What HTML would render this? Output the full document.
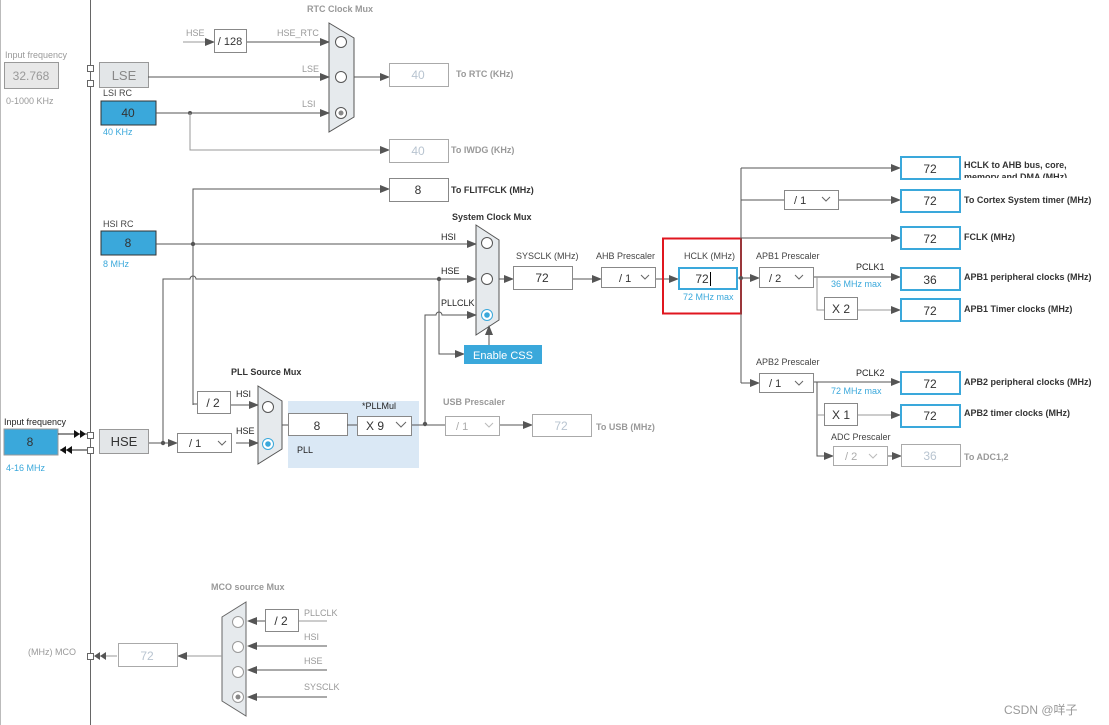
<!DOCTYPE html>
<html><head><meta charset="utf-8"><style>
html,body{margin:0;padding:0;background:#fff;}
svg{display:block;font-family:"Liberation Sans","Noto Sans CJK SC",sans-serif;}
.l{font-size:9px;fill:#444;}
.b{font-size:9px;fill:#333;font-weight:bold;}
.g{font-size:9px;fill:#999;}
.bl{font-size:9px;fill:#3aa8db;}
.v{font-size:12px;fill:#333;text-anchor:middle;}
.vg{font-size:12px;fill:#b8c4d0;text-anchor:middle;}
line,polyline,path{stroke:#555;stroke-width:1;fill:none;}
.lg{stroke:#999;}
.box{fill:#fff;stroke:#888;stroke-width:1;}
.bb{fill:#fff;stroke:#3aa8db;stroke-width:2;}
.mux{fill:#e6eaed;stroke:#555;stroke-width:1;}
.c{fill:#fff;stroke:#555;stroke-width:1;}
.cg{fill:#fff;stroke:#999;stroke-width:1;}
</style></head><body>
<svg width="1109" height="725" viewBox="0 0 1109 725" xmlns="http://www.w3.org/2000/svg">
<defs>
<marker id="a" markerWidth="10" markerHeight="8" refX="9" refY="4" orient="auto" markerUnits="userSpaceOnUse"><path d="M0,0 L10,4 L0,8 Z" style="fill:#555;stroke:none"/></marker>
<clipPath id="clp"><rect x="950" y="170" width="150" height="8"/></clipPath>
</defs>
<line x1="0.5" y1="0" x2="0.5" y2="725" style="stroke:#bbb"/>
<line x1="90.5" y1="0" x2="90.5" y2="725" style="stroke:#666"/>

<!-- LSE input -->
<text class="g" x="5" y="58">Input frequency</text>
<rect x="4.5" y="62.5" width="54" height="26" style="fill:#e8e8e8;stroke:#999"/>
<text x="31" y="80" style="font-size:12px;fill:#999;text-anchor:middle">32.768</text>
<text class="g" x="6" y="104">0-1000 KHz</text>
<rect x="87.5" y="65.5" width="6" height="6" style="fill:#fff;stroke:#666"/>
<rect x="87.5" y="80.5" width="6" height="6" style="fill:#fff;stroke:#666"/>
<rect x="99.5" y="62.5" width="49" height="25" style="fill:#e3e6e8;stroke:#999"/>
<text x="124" y="80" style="font-size:13px;fill:#888;text-anchor:middle">LSE</text>

<!-- LSI -->
<text class="l" x="103" y="96">LSI RC</text>
<rect x="101" y="101" width="55" height="24" style="fill:#3aa8db;stroke:#333"/>
<text class="v" x="128" y="117">40</text>
<text class="bl" x="103" y="135">40 KHz</text>

<!-- RTC mux -->
<text class="g" x="307" y="12" style="font-weight:bold">RTC Clock Mux</text>
<text class="g" x="186" y="36">HSE</text>
<line x1="183" y1="42" x2="214" y2="42" marker-end="url(#a)" class="lg"/>
<rect class="box" x="214.5" y="29.5" width="32" height="23"/>
<text x="230" y="45" style="font-size:11px;fill:#333;text-anchor:middle">/ 128</text>
<text class="g" x="277" y="36">HSE_RTC</text>
<line x1="247" y1="42" x2="329" y2="42" marker-end="url(#a)"/>
<polygon class="mux" points="329,23 354,38 354,117 329,132"/>
<circle class="c" cx="341" cy="42" r="5.5"/>
<circle class="c" cx="341" cy="77" r="5.5"/>
<circle class="c" cx="341" cy="113" r="5.5"/>
<circle cx="341" cy="113" r="2.5" style="fill:#888"/>
<text class="g" x="302" y="72">LSE</text>
<line x1="148" y1="77" x2="329" y2="77" marker-end="url(#a)"/>
<text class="g" x="302" y="107">LSI</text>
<line x1="156" y1="113" x2="329" y2="113" marker-end="url(#a)"/>
<circle cx="190" cy="113" r="2" style="fill:#555"/>
<line x1="354" y1="77" x2="389" y2="77" marker-end="url(#a)"/>
<rect class="box" x="389.5" y="63.5" width="59" height="23" style="stroke:#aaa"/>
<text class="vg" x="418" y="79">40</text>
<text class="g" x="456" y="77" style="font-weight:bold">To RTC (KHz)</text>
<polyline points="190,113 190,150 389,150" class="lg" marker-end="url(#a)"/>
<rect class="box" x="389.5" y="139.5" width="59" height="23" style="stroke:#aaa"/>
<text class="vg" x="418" y="155">40</text>
<text class="g" x="451" y="153" style="font-weight:bold">To IWDG (KHz)</text>

<!-- FLITF -->
<polyline points="193,405 193,189 389,189" marker-end="url(#a)"/>
<rect class="box" x="389.5" y="178.5" width="59" height="23"/>
<text class="v" x="418" y="194">8</text>
<text class="b" x="451" y="193">To FLITFCLK (MHz)</text>

<!-- HSI -->
<text class="l" x="103" y="227">HSI RC</text>
<rect x="101" y="231" width="55" height="24" style="fill:#3aa8db;stroke:#333"/>
<text class="v" x="128" y="247">8</text>
<text class="bl" x="103" y="267">8 MHz</text>
<line x1="156" y1="244" x2="476" y2="244" marker-end="url(#a)"/>
<circle cx="193" cy="244" r="2.2" style="fill:#555"/>

<!-- Sys mux -->
<text class="b" x="452" y="220">System Clock Mux</text>
<polygon class="mux" points="476,225 499,240 499,320 476,335"/>
<circle class="c" cx="487" cy="243" r="5.5"/>
<circle class="c" cx="487" cy="279" r="5.5"/>
<circle cx="487" cy="315" r="5.5" style="fill:#fff;stroke:#3aa8db"/>
<circle cx="487" cy="315" r="2.8" style="fill:#3aa8db"/>
<text class="l" x="441" y="240" style="fill:#222">HSI</text>
<text class="l" x="441" y="274" style="fill:#222">HSE</text>
<text class="l" x="441" y="306" style="fill:#222">PLLCLK</text>
<path d="M163,443 L163,279 L190,279 A3,3 0 0 1 196,279 L476,279" marker-end="url(#a)"/>
<circle cx="439" cy="279" r="2.2" style="fill:#555"/>
<path d="M425,424 L425,315 L436,315 A3,3 0 0 1 442,315 L476,315" marker-end="url(#a)"/>
<polyline points="439,279 439,354 464,354" marker-end="url(#a)"/>
<rect x="464" y="345" width="78" height="19" style="fill:#3aa8db"/>
<text x="503" y="359" style="font-size:11px;fill:#fff;text-anchor:middle">Enable CSS</text>
<line x1="489" y1="345" x2="489" y2="326" marker-end="url(#a)"/>

<line x1="499" y1="279" x2="513" y2="279" marker-end="url(#a)"/>
<text class="l" x="516" y="259">SYSCLK (MHz)</text>
<rect class="box" x="513.5" y="266.5" width="59" height="23"/>
<text class="v" x="542" y="282">72</text>
<line x1="573" y1="279" x2="601" y2="279" marker-end="url(#a)"/>
<text class="l" x="596" y="259">AHB Prescaler</text>
<rect class="box" x="601.5" y="267.5" width="54" height="20"/>
<text x="619" y="282" style="font-size:11px;fill:#333">/ 1</text>
<polyline points="641,275 645,279 649,275" style="stroke:#666"/>
<line x1="656" y1="279" x2="678" y2="279" marker-end="url(#a)"/>

<!-- HCLK -->
<rect x="663" y="238.5" width="78" height="75" style="fill:none;stroke:#e0161f;stroke-width:2"/>
<text class="l" x="684" y="259">HCLK (MHz)</text>
<rect class="bb" x="679" y="268" width="58" height="21"/>
<text class="v" x="702" y="283">72</text>
<line x1="710.5" y1="272" x2="710.5" y2="286" style="stroke:#000"/>
<text class="bl" x="683" y="300">72 MHz max</text>
<line x1="738" y1="278" x2="759" y2="278" marker-end="url(#a)"/>
<circle cx="741" cy="278" r="2" style="fill:#555"/>

<line x1="741" y1="168" x2="741" y2="383"/>
<line x1="741" y1="168" x2="900" y2="168" marker-end="url(#a)"/>
<rect class="bb" x="901" y="157" width="59" height="22"/>
<text class="v" x="930" y="173">72</text>
<text class="b" x="964" y="168">HCLK to AHB bus, core,</text>
<text class="b" x="964" y="180" clip-path="url(#clp)">memory and DMA (MHz)</text>

<line x1="741" y1="200" x2="784" y2="200"/>
<rect class="box" x="784.5" y="190.5" width="54" height="19"/>
<text x="794" y="204" style="font-size:11px;fill:#333">/ 1</text>
<polyline points="822,197 826,201 830,197" style="stroke:#666"/>
<line x1="839" y1="200" x2="900" y2="200" marker-end="url(#a)"/>
<rect class="bb" x="901" y="190" width="59" height="22"/>
<text class="v" x="930" y="205">72</text>
<text class="b" x="964" y="203">To Cortex System timer (MHz)</text>

<line x1="741" y1="238" x2="900" y2="238" marker-end="url(#a)"/>
<rect class="bb" x="901" y="227" width="59" height="22"/>
<text class="v" x="930" y="243">72</text>
<text class="b" x="964" y="240">FCLK (MHz)</text>

<!-- APB1 -->
<text class="l" x="756" y="259">APB1 Prescaler</text>
<rect class="box" x="759.5" y="267.5" width="54" height="20"/>
<text x="769" y="282" style="font-size:11px;fill:#333">/ 2</text>
<polyline points="795,275 799,279 803,275" style="stroke:#666"/>
<line x1="814" y1="277" x2="900" y2="277" marker-end="url(#a)"/>
<text class="l" x="856" y="270" style="fill:#222">PCLK1</text>
<text class="bl" x="831" y="287">36 MHz max</text>
<rect class="bb" x="901" y="268" width="59" height="22"/>
<text class="v" x="930" y="284">36</text>
<text class="b" x="964" y="280">APB1 peripheral clocks (MHz)</text>
<polyline points="817,277 817,310 824,310" class="lg"/>
<rect class="box" x="824.5" y="297.5" width="33" height="22"/>
<text x="841" y="313" style="font-size:12px;fill:#333;text-anchor:middle">X 2</text>
<line x1="858" y1="310" x2="900" y2="310" class="lg" marker-end="url(#a)"/>
<rect class="bb" x="901" y="299" width="59" height="22"/>
<text class="v" x="930" y="315">72</text>
<text class="b" x="964" y="312">APB1 Timer clocks (MHz)</text>

<!-- APB2 -->
<text class="l" x="756" y="365">APB2 Prescaler</text>
<line x1="741" y1="383" x2="759" y2="383" marker-end="url(#a)"/>
<rect class="box" x="759.5" y="373.5" width="54" height="19"/>
<text x="769" y="387" style="font-size:11px;fill:#333">/ 1</text>
<polyline points="795,381 799,385 803,381" style="stroke:#666"/>
<line x1="814" y1="382" x2="900" y2="382" marker-end="url(#a)"/>
<text class="l" x="856" y="376" style="fill:#222">PCLK2</text>
<text class="bl" x="831" y="394">72 MHz max</text>
<rect class="bb" x="901" y="372" width="59" height="22"/>
<text class="v" x="930" y="388">72</text>
<text class="b" x="964" y="385">APB2 peripheral clocks (MHz)</text>
<polyline points="817,382 817,456 833,456" marker-end="url(#a)"/>
<line x1="817" y1="415" x2="824" y2="415" class="lg"/>
<rect class="box" x="824.5" y="403.5" width="33" height="22"/>
<text x="841" y="419" style="font-size:12px;fill:#333;text-anchor:middle">X 1</text>
<line x1="858" y1="415" x2="900" y2="415" class="lg" marker-end="url(#a)"/>
<rect class="bb" x="901" y="405" width="59" height="22"/>
<text class="v" x="930" y="420">72</text>
<text class="b" x="964" y="416">APB2 timer clocks (MHz)</text>
<text class="l" x="831" y="440">ADC Prescaler</text>
<rect class="box" x="833.5" y="446.5" width="54" height="19" style="stroke:#aaa"/>
<text x="845" y="460" style="font-size:11px;fill:#aaa">/ 2</text>
<polyline points="869,454 873,458 877,454" style="stroke:#bbb"/>
<line x1="888" y1="456" x2="901" y2="456" marker-end="url(#a)"/>
<rect class="box" x="901.5" y="444.5" width="59" height="22" style="stroke:#aaa"/>
<text class="vg" x="930" y="460">36</text>
<text class="g" x="964" y="460" style="font-weight:bold">To ADC1,2</text>

<!-- HSE input -->
<text class="l" x="4" y="425" style="fill:#222">Input frequency</text>
<rect x="4" y="429" width="54" height="26" style="fill:#3aa8db;stroke:#999"/>
<text class="v" x="30" y="446">8</text>
<text class="bl" x="6" y="471">4-16 MHz</text>
<line x1="58" y1="434" x2="87" y2="434" style="stroke:#222"/>
<path d="M74,430 L80,434 L74,438 Z M80,430 L86,434 L80,438 Z" style="fill:#111;stroke:none"/>
<line x1="60" y1="450" x2="87" y2="450" style="stroke:#222"/>
<path d="M60,450 L66,446 L66,454 Z M66,450 L72,446 L72,454 Z" style="fill:#111;stroke:none"/>
<rect x="87.5" y="432.5" width="6" height="6" style="fill:#fff;stroke:#666"/>
<rect x="87.5" y="447.5" width="6" height="6" style="fill:#fff;stroke:#666"/>
<rect x="99.5" y="429.5" width="49" height="24" style="fill:#e3e6e8;stroke:#999"/>
<text x="124" y="446" style="font-size:13px;fill:#333;text-anchor:middle">HSE</text>
<line x1="149" y1="443" x2="177" y2="443" marker-end="url(#a)"/>
<circle cx="163" cy="443" r="2.2" style="fill:#555"/>
<rect class="box" x="177.5" y="433.5" width="54" height="19"/>
<text x="189" y="447" style="font-size:11px;fill:#333">/ 1</text>
<polyline points="218,441 222,445 226,441" style="stroke:#666"/>
<line x1="236" y1="443" x2="258" y2="443" marker-end="url(#a)"/>

<!-- PLL src mux -->
<text class="b" x="231" y="375">PLL Source Mux</text>
<polyline points="193,404 197,404"/>
<rect class="box" x="197.5" y="391.5" width="33" height="22"/>
<text x="213" y="407" style="font-size:12px;fill:#333;text-anchor:middle">/ 2</text>
<text class="l" x="236" y="397" style="fill:#222">HSI</text>
<line x1="231" y1="405" x2="258" y2="405" marker-end="url(#a)"/>
<text class="l" x="236" y="434" style="fill:#222">HSE</text>
<polygon class="mux" points="258,386 282,401 282,449 258,464"/>
<circle class="c" cx="268" cy="407" r="5.5"/>
<circle cx="268" cy="444" r="5.5" style="fill:#fff;stroke:#3aa8db"/>
<circle cx="268" cy="444" r="2.8" style="fill:#3aa8db"/>

<rect x="288" y="401" width="131" height="67" style="fill:#dae8f5"/>
<line x1="282" y1="425" x2="288" y2="425"/>
<rect class="box" x="288.5" y="413.5" width="59" height="22"/>
<text class="v" x="317" y="430">8</text>
<text class="l" x="362" y="409" style="fill:#222">*PLLMul</text>
<line x1="347" y1="425" x2="357" y2="425"/>
<rect class="box" x="357.5" y="416.5" width="54" height="19"/>
<text x="366" y="430" style="font-size:12px;fill:#333">X 9</text>
<polyline points="396,422 401,427 406,422" style="stroke:#666"/>
<text class="l" x="297" y="453" style="fill:#222">PLL</text>
<line x1="412" y1="425" x2="445" y2="425"/>
<circle cx="425" cy="424" r="2.2" style="fill:#555"/>
<text class="g" x="443" y="405" style="font-weight:bold">USB Prescaler</text>
<rect class="box" x="445.5" y="416.5" width="54" height="19" style="stroke:#aaa"/>
<text x="456" y="430" style="font-size:11px;fill:#aaa">/ 1</text>
<polyline points="485,423 489,427 493,423" style="stroke:#bbb"/>
<line x1="500" y1="425" x2="532" y2="425" marker-end="url(#a)"/>
<rect class="box" x="532.5" y="414.5" width="59" height="22" style="stroke:#aaa"/>
<text class="vg" x="561" y="430">72</text>
<text class="g" x="596" y="430" style="font-weight:bold">To USB (MHz)</text>

<!-- MCO -->
<text class="g" x="211" y="590" style="font-weight:bold">MCO source Mux</text>
<polygon class="mux" points="246,602 246,716 222,701 222,617" style="stroke:#666"/>
<circle class="cg" cx="238" cy="622" r="5.5"/>
<circle class="cg" cx="238" cy="647" r="5.5"/>
<circle class="cg" cx="238" cy="672" r="5.5"/>
<circle class="cg" cx="238" cy="697" r="5.5"/>
<circle cx="238" cy="697" r="2.5" style="fill:#888"/>
<line x1="265" y1="621" x2="248" y2="621" marker-end="url(#a)"/>
<rect class="box" x="265.5" y="609.5" width="33" height="22"/>
<text x="281" y="625" style="font-size:12px;fill:#333;text-anchor:middle">/ 2</text>
<line x1="299" y1="621" x2="327" y2="621" class="lg"/>
<text class="g" x="304" y="616">PLLCLK</text>
<text class="g" x="304" y="640">HSI</text>
<line x1="327" y1="646" x2="248" y2="646" marker-end="url(#a)"/>
<text class="g" x="304" y="664">HSE</text>
<line x1="327" y1="670" x2="248" y2="670" marker-end="url(#a)"/>
<text class="g" x="304" y="690">SYSCLK</text>
<line x1="327" y1="697" x2="248" y2="697" marker-end="url(#a)"/>
<line x1="222" y1="656" x2="178" y2="656" class="lg" marker-end="url(#a)"/>
<rect class="box" x="118.5" y="643.5" width="59" height="23" style="stroke:#aaa"/>
<text class="vg" x="147" y="660">72</text>
<text class="g" x="28" y="655">(MHz) MCO</text>
<line x1="95" y1="656" x2="117" y2="656" class="lg"/>
<path d="M94,656 L100,652 L100,660 Z M100,656 L106,652 L106,660 Z" style="fill:#555;stroke:none"/>
<rect x="87.5" y="653.5" width="6" height="6" style="fill:#fff;stroke:#666"/>

<text x="1004" y="714" style="font-size:12px;fill:#999">CSDN @咩子</text>
</svg>
</body></html>
